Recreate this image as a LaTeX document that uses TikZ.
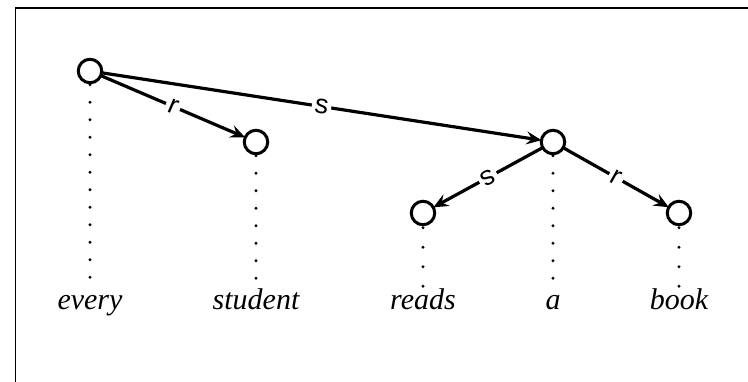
\documentclass[tikz,border=0pt]{standalone}
\usepackage{fontspec}
\setmainfont{Liberation Serif}
\newfontfamily\labelfont{Liberation Sans}
\usetikzlibrary{arrows.meta}
\begin{document}
\begin{tikzpicture}[x=1pt,y=-1pt,
  dnode/.style={circle,draw,line width=3pt,minimum size=23.5pt,inner sep=0pt,outer sep=0pt},
  word/.style={anchor=base,font=\fontsize{30}{30}\selectfont\itshape,inner sep=0pt},
  rel/.style={line width=3.2pt,-{Stealth[length=15pt,width=13pt,inset=5.5pt]}},
  lbl/.style={midway,sloped,fill=white,inner sep=3pt,font=\labelfont\fontsize{27}{27}\selectfont},
  anchorline/.style={line width=3.3pt,line cap=round,dash pattern=on 0pt off #1},
  anchorline/.default=17.5pt]
  \useasboundingbox (0,0) rectangle (748,382);
  \clip (0,0) rectangle (748,382);
  % frame
  \draw[line width=1.5pt] (15.5,8) rectangle (780,420);

  % dependency nodes
  \node[dnode] (n1) at (90,71) {};
  \node[dnode] (n2) at (256,142) {};
  \node[dnode] (n4) at (553,142) {};
  \node[dnode] (n3) at (423,213) {};
  \node[dnode] (n5) at (679,213) {};

  % words
  \node[word] (w1) at (90,310) {every};
  \node[word] (w2) at (256,310) {student};
  \node[word] (w3) at (423,310) {reads};
  \node[word] (w4) at (553,310) {a};
  \node[word] (w5) at (679,310) {book};

  % anchoring lines from nodes to words
  \coordinate (t1) at (90,293);
  \coordinate (t2) at (256,293);
  \coordinate (t3) at (423,293);
  \coordinate (t4) at (553,293);
  \coordinate (t5) at (679,293);
  \draw[anchorline] ([yshift=-2pt]n1.south) -- (t1);
  \draw[anchorline] ([yshift=-2pt]n2.south) -- (t2);
  \draw[anchorline] ([yshift=-2pt]n4.south) -- (t4);
  \draw[anchorline=19.5pt] ([yshift=-3pt]n3.south) -- (t3);
  \draw[anchorline=19.5pt] ([yshift=-3pt]n5.south) -- (t5);

  % relations
  \draw[rel] (n1) -- node[lbl] {r} (n2);
  \draw[rel] (n1) -- node[lbl] {s} (n4);
  \draw[rel] (n4) -- node[lbl,rotate=180] {s} (n3);
  \draw[rel] (n4) -- node[lbl] {r} (n5);
\end{tikzpicture}
\end{document}
